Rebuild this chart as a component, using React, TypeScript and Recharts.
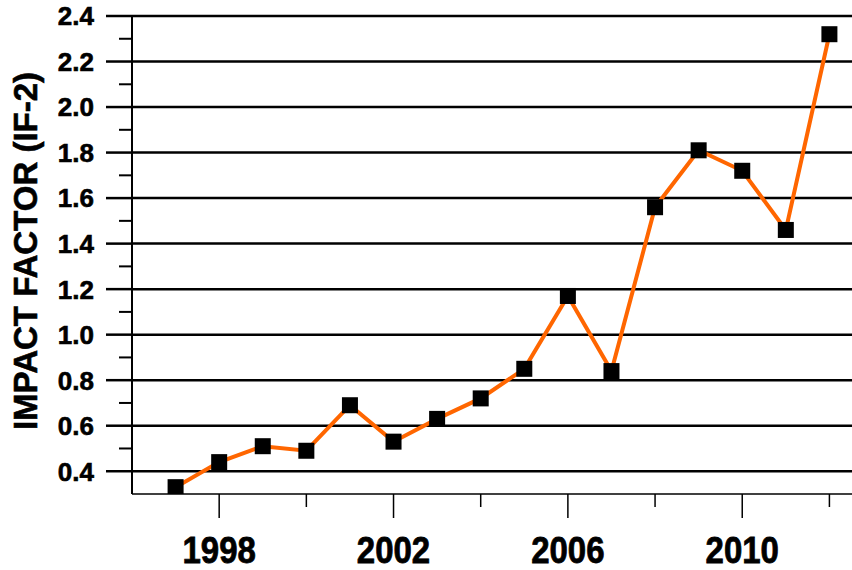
import { Line, LineChart, ReferenceLine, XAxis, YAxis } from "recharts"

const YEARS = [1997, 1998, 1999, 2000, 2001, 2002, 2003, 2004, 2005, 2006, 2007, 2008, 2009, 2010, 2011, 2012]
const IMPACT_FACTOR = [0.33, 0.44, 0.51, 0.49, 0.69, 0.53, 0.63, 0.72, 0.85, 1.17, 0.84, 1.56, 1.81, 1.72, 1.46, 2.32]

const Y_MAJOR = [0.4, 0.6, 0.8, 1.0, 1.2, 1.4, 1.6, 1.8, 2.0, 2.2, 2.4]
const Y_MINOR = [0.5, 0.7, 0.9, 1.1, 1.3, 1.5, 1.7, 1.9, 2.1, 2.3]
const X_TICKS = [1998, 2000, 2002, 2004, 2006, 2008, 2010, 2012]
const X_LABELED = [1998, 2002, 2006, 2010]

const data = YEARS.map((year, i) => ({ year, value: IMPACT_FACTOR[i] }))

const FONT = "'Liberation Sans', Arial, Helvetica, sans-serif"

// y ticks: long line + label for majors, short stub for minors
function YTick(props: any) {
  const { x, y, payload } = props
  const major = Y_MAJOR.includes(payload.value)
  return (
    <g>
      <line x1={x - (major ? 26 : 13)} x2={x} y1={y} y2={y} stroke="#000" strokeWidth={major ? 2.5 : 2} />
      {major && (
        <text
          x={x - 38}
          y={y}
          dy="0.36em"
          textAnchor="end"
          fontFamily={FONT}
          fontWeight="bold"
          fontSize={26}
          fill="#000"
          stroke="#000"
          strokeWidth={0.6}
        >
          {payload.value.toFixed(1)}
        </text>
      )}
    </g>
  )
}

function XTick(props: any) {
  const { x, y, payload } = props
  const labeled = X_LABELED.includes(payload.value)
  const by = y + 69
  return (
    <g>
      <line x1={x} x2={x} y1={y} y2={y + (labeled ? 24 : 13)} stroke="#000" strokeWidth={1.5} />
      {labeled && (
        <text
          x={x}
          y={by}
          transform={`translate(0, ${by}) scale(1, 1.12) translate(0, ${-by})`}
          textAnchor="middle"
          fontFamily={FONT}
          fontWeight="bold"
          fontSize={33}
          fill="#000"
          stroke="#000"
          strokeWidth={0.7}
        >
          {payload.value}
        </text>
      )}
    </g>
  )
}

function SquareDot(props: any) {
  const { cx, cy, index } = props
  return <rect key={`dot-${index}`} x={cx - 8} y={cy - 8} width={16} height={16} fill="#000" />
}

function AxisTitle(props: any) {
  const { viewBox } = props
  const cx = viewBox.x + 25
  const cy = viewBox.y + viewBox.height / 2 - 4
  return (
    <text
      x={cx}
      y={cy}
      transform={`rotate(-90, ${cx}, ${cy})`}
      textAnchor="middle"
      dominantBaseline="central"
      fontFamily={FONT}
      fontWeight="bold"
      fontSize={33}
      fill="#000"
      stroke="#000"
      strokeWidth={0.6}
    >
      IMPACT FACTOR (IF-2)
    </text>
  )
}

export default function App() {
  return (
    <div style={{ position: "absolute", left: 0, top: 0, width: 852, height: 570, overflow: "hidden", background: "#fff" }}>
      <LineChart width={900} height={570} data={data} margin={{ top: 16, right: 27, bottom: 0, left: 0 }}>
        <XAxis
          dataKey="year"
          type="number"
          domain={[1996, 2013]}
          ticks={X_TICKS}
          height={76}
          tickSize={0}
          tickMargin={0}
          tickLine={false}
          axisLine={{ stroke: "#000", strokeWidth: 1.5 }}
          tick={<XTick />}
          interval={0}
        />
        <YAxis
          type="number"
          domain={[0.3, 2.4]}
          ticks={[...Y_MAJOR, ...Y_MINOR]}
          width={132}
          tickSize={0}
          tickMargin={0}
          tickLine={false}
          axisLine={{ stroke: "#000", strokeWidth: 2 }}
          tick={<YTick />}
          interval={0}
          allowDataOverflow
          label={<AxisTitle />}
        />
        {Y_MAJOR.map((v) => (
          <ReferenceLine key={v} y={v} stroke="#000" strokeWidth={2.5} />
        ))}
        <Line
          dataKey="value"
          stroke="#ff6600"
          strokeWidth={4}
          dot={<SquareDot />}
          activeDot={false}
          isAnimationActive={false}
        />
      </LineChart>
    </div>
  )
}
